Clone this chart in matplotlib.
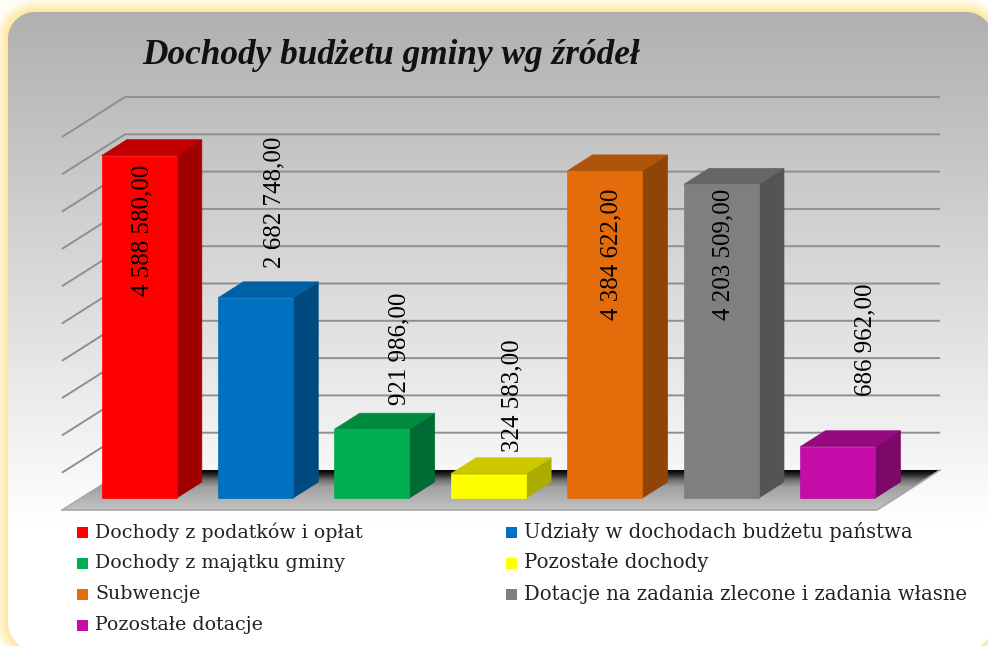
import numpy as np
import matplotlib
matplotlib.use('Agg')
import matplotlib.pyplot as plt
from matplotlib.patches import Polygon, Rectangle
from matplotlib.colors import LinearSegmentedColormap

title = 'Dochody budżetu gminy wg źródeł'
categories = ['Dochody z podatków i opłat', 'Udziały w dochodach budżetu państwa',
              'Dochody z majątku gminy', 'Pozostałe dochody', 'Subwencje',
              'Dotacje na zadania zlecone i zadania własne', 'Pozostałe dotacje']
values = [4588580, 2682748, 921986, 324583, 4384622, 4203509, 686962]
value_labels = ['4 588 580,00', '2 682 748,00', '921 986,00', '324 583,00',
                '4 384 622,00', '4 203 509,00', '686 962,00']
grid_values = [500000, 1000000, 1500000, 2000000, 2500000,
               3000000, 3500000, 4000000, 4500000, 5000000]
front_colors = ['#FF0000', '#0070C0', '#00B050', '#FFFF00', '#E46C0A', '#7F7F7F', '#C60CA8']
top_colors = ['#C00000', '#0060A6', '#008A40', '#CCC800', '#B0540A', '#666666', '#960A80']
side_colors = ['#A00000', '#004A80', '#006B35', '#ABAB00', '#8F4508', '#545454', '#7C0868']

W, H = 988, 646
SLOT = 116.43      # pixels per category
PER_UNIT = 74.6e-6 # pixels per zl
LEFT, BASE = 62, 510
DEPTH_X, DEPTH_Y = 63 / SLOT, 40 / PER_UNIT


def project(x, v, d):
    """Front plane position moved back by depth d (0 front, 1 back wall)."""
    return (x + d * DEPTH_X, v + d * DEPTH_Y)


def rounded_dist(xx, yy, x0, y0, x1, y1, r):
    """Distance of each pixel outside a rounded rectangle."""
    qx = np.maximum(np.maximum(x0 + r - xx, xx - (x1 - r)), 0)
    qy = np.maximum(np.maximum(y0 + r - yy, yy - (y1 - r)), 0)
    return np.hypot(qx, qy) - r


fig = plt.figure(figsize=(W / 100, H / 100), dpi=100)

# background: yellow glow and grey to white panel
bg = fig.add_axes([0, 0, 1, 1])
yy, xx = np.mgrid[0:H, 0:W]
dist = rounded_dist(xx + 0.5, yy + 0.5, 8, 12, 992, 650, 27)
glow = np.clip(dist / 13, 0, 1)[..., None]
inner = np.array([1.0, 0.90, 0.62])
outer = np.array([1.0, 0.995, 0.96])
img = inner + (outer - inner) * glow
shade = np.clip((yy - 12) / 510, 0, 1)
grey = 0.69 + (1 - 0.69) * shade
panel = np.clip(-dist + 0.5, 0, 1)[..., None]
img = img * (1 - panel) + np.dstack([grey, grey, grey]) * panel
bg.imshow(img, extent=(0, W, H, 0), aspect='auto', interpolation='bilinear')
bg.set_xlim(0, W)
bg.set_ylim(H, 0)
bg.axis('off')

# chart area, x in category slots and y in zl
ax = fig.add_axes([0, 0, 1, 1])
ax.patch.set_alpha(0)
xlim = (-LEFT / SLOT, (W - LEFT) / SLOT)
ylim = ((BASE - H) / PER_UNIT, BASE / PER_UNIT)
n = len(values)

# floor
floor_pts = [project(0, 0, 0), project(n, 0, 0), project(n, 0, 1), project(0, 0, 1)]
floor_cmap = LinearSegmentedColormap.from_list(
    'floor', [(0, '#000000'), (0.1, '#222222'), (0.25, '#707070'), (0.42, '#a0a0a0'), (1, '#c4c4c4')])
grad = np.linspace(0, 1, 200)[:, None]
floor_img = ax.imshow(grad, cmap=floor_cmap, aspect='auto', zorder=1,
                      extent=(0, n + DEPTH_X, 0, DEPTH_Y), origin='upper')
floor_poly = Polygon(floor_pts, closed=True, transform=ax.transData, fc='none', ec='none', zorder=1.5)
ax.add_patch(floor_poly)
floor_img.set_clip_path(floor_poly)
ax.plot([floor_pts[0][0], floor_pts[1][0], floor_pts[2][0]],
        [floor_pts[0][1], floor_pts[1][1], floor_pts[2][1]], color='#a6a6a6', lw=1.2, zorder=1.6)
ax.plot([floor_pts[0][0], floor_pts[3][0]], [floor_pts[0][1], floor_pts[3][1]], color='#a6a6a6', lw=1.0, zorder=1.6)

# wall grid lines
for g in grid_values:
    px, py = zip(project(0, g, 0), project(0, g, 1), project(n, g, 1))
    ax.plot(px, py, color='#8f8f8f', lw=1.4, zorder=2, solid_capstyle='butt')

# bars
BAR_W = 75 / SLOT
D0, D1 = 0.30, 0.70
for i, v in enumerate(values):
    x0 = i + 0.5 - BAR_W / 2
    x1 = x0 + BAR_W
    front = [project(x0, 0, D0), project(x1, 0, D0), project(x1, v, D0), project(x0, v, D0)]
    top = [project(x0, v, D0), project(x1, v, D0), project(x1, v, D1), project(x0, v, D1)]
    side = [project(x1, 0, D0), project(x1, 0, D1), project(x1, v, D1), project(x1, v, D0)]
    ax.add_patch(Polygon(side, closed=True, fc=side_colors[i], ec=side_colors[i], lw=0.5, zorder=3))
    ax.add_patch(Polygon(top, closed=True, fc=top_colors[i], ec=top_colors[i], lw=0.5, zorder=3))
    ax.add_patch(Polygon(front, closed=True, fc=front_colors[i], ec=front_colors[i], lw=0.5, zorder=3))

# value labels, centre of each in pixels
label_px = [(142, 230), (274, 202), (399, 349), (512, 396), (611, 254), (723, 254), (865, 340)]
for (lx, ly), lab in zip(label_px, value_labels):
    ax.text((lx - LEFT) / SLOT, (BASE - ly) / PER_UNIT, lab, rotation=90, ha='center', va='center',
            family='Liberation Serif', fontsize=18, color='black', zorder=5)

ax.set_xlim(xlim)
ax.set_ylim(ylim)
ax.axis('off')

# title and legend on the pixel axes, above the chart
top_ax = fig.add_axes([0, 0, 1, 1])
top_ax.patch.set_alpha(0)
top_ax.set_xlim(0, W)
top_ax.set_ylim(H, 0)
top_ax.axis('off')
top_ax.text(391, 55, title, ha='center', va='center', family='Liberation Serif',
            style='italic', weight='bold', fontsize=25.4, color='#111111')
for i, name in enumerate(categories):
    col, row = i % 2, i // 2
    sx = [77, 506][col]
    sy = 532 + row * 31
    top_ax.add_patch(Rectangle((sx, sy - 5.5), 11, 11, fc=front_colors[i], ec='none'))
    top_ax.text(sx + 18, sy, name, ha='left', va='center', family='DejaVu Serif',
                fontsize=[13.7, 14.1][col], color='#222222')

fig.savefig('out.png', dpi=100)
